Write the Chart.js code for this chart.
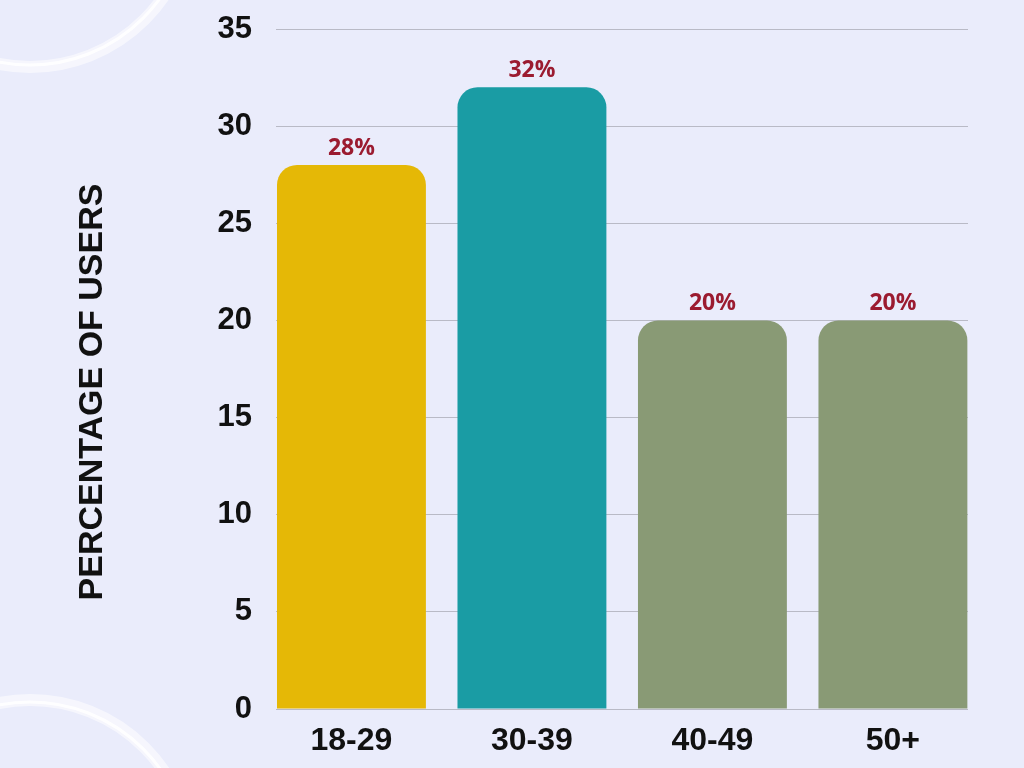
<!DOCTYPE html>
<html>
<head>
<meta charset="utf-8">
<script src="https://cdn.jsdelivr.net/npm/chart.js@4.4.0/dist/chart.umd.min.js"></script>
<style>
  html, body { margin: 0; padding: 0; background: #eaecfb; }
  canvas { display: block; }
</style>
</head>
<body>
<canvas id="age_chart" width="1024" height="768"></canvas>
<script>
const ageGroups = ['18-29', '30-39', '40-49', '50+']; // 年齢層
const userShares = [28, 32, 20, 20]; // ユーザーの割合(%)
const barColors = ['#e5b806', '#1a9ca4', '#899a75'];
const yTicks = [0, 5, 10, 15, 20, 25, 30, 35];
const yTitle = 'PERCENTAGE OF USERS';

const barColorFor = i => barColors[Math.min(i, barColors.length - 1)];

// 背景と飾りの円弧
const backdrop = {
  id: 'backdrop',
  beforeDraw(chart) {
    const ctx = chart.ctx;
    ctx.save();
    ctx.fillStyle = '#eaecfb';
    ctx.fillRect(0, 0, chart.width, chart.height);
    const arcs = [[30, -95], [30, 862]];
    arcs.forEach(([cx, cy]) => {
      ctx.beginPath();
      ctx.arc(cx, cy, 162, 0, Math.PI * 2);
      ctx.strokeStyle = 'rgba(255,255,255,0.55)';
      ctx.lineWidth = 12;
      ctx.stroke();
      ctx.beginPath();
      ctx.arc(cx, cy, 160, 0, Math.PI * 2);
      ctx.strokeStyle = 'rgba(255,255,255,0.9)';
      ctx.lineWidth = 3;
      ctx.stroke();
    });
    ctx.restore();
  }
};

// 縦軸タイトル
const axisTitle = {
  id: 'axisTitle',
  afterDraw(chart) {
    const ctx = chart.ctx;
    ctx.save();
    ctx.translate(93, 392);
    ctx.rotate(-Math.PI / 2);
    ctx.font = 'bold 34px "Liberation Sans", Arial, sans-serif';
    ctx.fillStyle = '#111111';
    ctx.textAlign = 'center';
    ctx.textBaseline = 'middle';
    ctx.fillText(yTitle, 0, 0);
    ctx.restore();
  }
};

// バーの上の値ラベル
const valueLabels = {
  id: 'valueLabels',
  afterDatasetsDraw(chart) {
    const ctx = chart.ctx;
    const meta = chart.getDatasetMeta(0);
    ctx.save();
    ctx.font = 'bold 23px "Open Sans", sans-serif';
    ctx.fillStyle = '#9b1b30';
    ctx.textAlign = 'center';
    ctx.textBaseline = 'bottom';
    meta.data.forEach((bar, i) => {
      ctx.fillText(userShares[i] + '%', bar.x, bar.y - 5);
    });
    ctx.restore();
  }
};

const ctx = document.getElementById('age_chart').getContext('2d');

const ageChart = new Chart(ctx, {
  type: 'bar',
  data: {
    datasets: [{
      label: 'Users',
      data: userShares.map((v, i) => ({ x: i, y: v })),
      backgroundColor: userShares.map((v, i) => barColorFor(i)),
      borderRadius: { topLeft: 20, topRight: 20 },
      borderSkipped: 'start',
      barPercentage: 0.825,
      categoryPercentage: 1
    }]
  },
  options: {
    responsive: false,
    animation: false,
    layout: { padding: { top: 29, right: 56, left: 0, bottom: 0 } },
    plugins: {
      legend: { display: false },
      tooltip: { enabled: false }
    },
    scales: {
      x: {
        type: 'linear',
        offset: false,
        bounds: 'data',
        min: -0.418,
        max: 3.416,
        grid: { display: false },
        border: { display: false },
        afterBuildTicks: scale => {
          scale.ticks = ageGroups.map((g, i) => ({ value: i }));
        },
        afterFit: scale => { scale.height = 59; },
        ticks: {
          autoSkip: false,
          padding: 5,
          color: '#111111',
          font: { family: '"Liberation Sans", Arial, sans-serif', size: 32, weight: 'bold' },
          callback: value => ageGroups[value]
        }
      },
      y: {
        min: 0,
        max: 35,
        afterBuildTicks: scale => {
          scale.ticks = yTicks.map(v => ({ value: v }));
        },
        afterFit: scale => {
          scale.width = 276;
          scale.paddingTop = 0;
          scale.paddingBottom = 0;
        },
        grid: { color: '#b9bac6', lineWidth: 1, drawTicks: false },
        border: { display: false },
        ticks: {
          padding: 24,
          color: '#111111',
          font: { family: '"Liberation Sans", Arial, sans-serif', size: 31, weight: 'bold' }
        }
      }
    }
  },
  plugins: [backdrop, axisTitle, valueLabels]
});
</script>
</body>
</html>
